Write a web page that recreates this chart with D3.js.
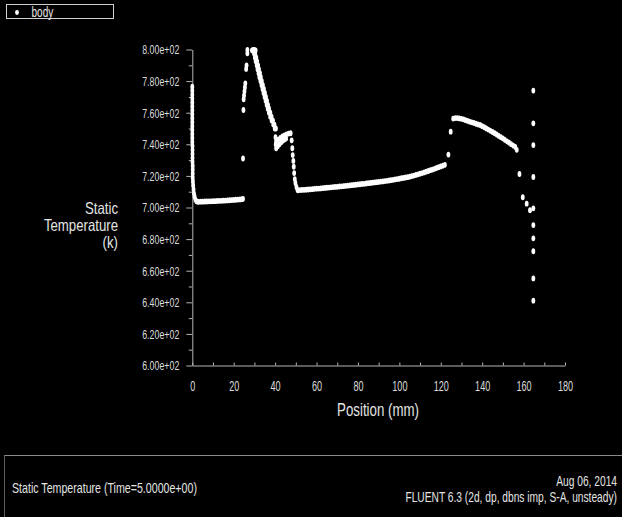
<!DOCTYPE html>
<html>
<head>
<meta charset="utf-8">
<script src="https://cdn.jsdelivr.net/npm/d3@7"></script>
<style>
  html, body { margin: 0; padding: 0; background: #000; }
  svg { display: block; }
  text { font-family: "Liberation Sans", Arial, sans-serif; fill: #e4e4e4; }
</style>
</head>
<body>
<svg id="chart" width="622" height="517"></svg>
<script>
// data: [position mm, static temperature K]
var inletColumn = [
  [0,776.5],[0,774],[0,771.5],[0,769],[0,766.5],[0,764],[0,761.5],[0,759],[0,756.5],[0,754],
  [0,751.5],[0,749],[0,746.5],[0,744],[0,741.5],[0.1,739],[0.1,736.5],[0.1,734],[0.1,731.5],
  [0.1,729],[0.2,726.5],[0.2,724],[0.2,721.5],[0.2,719],[0.3,716.5],[0.4,714],[0.6,711.5],
  [0.8,709],[1.1,707],[1.5,705],[2,704]
];
var inletFlat = [
  [2.5,703.7],[3,703.6],[4,703.7],[5,703.7],[6,703.8],[7,703.8],[8,703.9],[9,703.9],[10,704],
  [11,704],[12,704.1],[13,704.2],[14,704.2],[15,704.3],[16,704.4],[17,704.5],[18,704.6],
  [19,704.7],[20,704.8],[21,704.9],[22,705],[23,705.1],[24,705.3],[24.5,705.5]
];
var shockRise = [
  [24.5,731],[24.7,761.7],[24.8,768.5],[25,771],[25.2,773.5],[25.4,776],[25.6,778.6],
  [26,787.7],[26.2,790],[26.6,797.6],[26.6,799.7]
];
var peakTop = [[28.8,799.5],[29.4,799.7],[30,799.7],[30.6,799.5]];
var peakBandLeft = [
  [29.8,797.5],[30.2,795],[30.6,792.5],[31.1,790],[31.5,787.5],[32,785],[32.4,782.5],[32.9,780],
  [33.4,777.5],[33.9,775],[34.4,772.5],[34.9,770],[35.4,767.5],[35.9,765],[36.4,762.5],[37,760],
  [37.6,757.5],[38.3,755],[39.1,752.5],[39.8,750]
];
var peakBandRight = [
  [30.4,797.5],[30.9,795],[31.3,792.5],[31.8,790],[32.2,787.5],[32.7,785],[33.1,782.5],[33.6,780],
  [34.1,777.5],[34.6,775],[35.1,772.5],[35.6,770],[36.1,767.5],[36.6,765],[37.1,762.5],[37.7,760],
  [38.3,757.5],[39,755],[39.7,752.5],[40.4,750]
];
var knotUpper = [
  [40.2,744.5],[40.5,742],[41.5,743],[42.5,744],[43.5,745],[44.5,745.7],[45.5,746.3],[46.5,746.8],[47.5,747]
];
var knotLower = [
  [40.3,740],[40.5,737.5],[41.3,738.8],[42.1,740],[42.9,741.2],[43.7,742.2],[44.5,743],[45.3,743.6]
];
var dropColumn = [
  [48,742.5],[48.3,737.5],[48.5,733.2],[48.8,729.5],[49,725.8],[49.2,721.8],[49.5,718],[49.8,715.5],[50.3,713]
];
var midBand = [
  [50.8,711.2],[51,710.9],[52,711],[53,711.1],[54,711.2],[55,711.3],[56,711.4],[57,711.5],[58,711.6],
  [59,711.8],[60,711.9],[61,712],[62,712.1],[63,712.2],[64,712.4],[65,712.5],[66,712.6],[67,712.8],
  [68,712.9],[69,713],[70,713.1],[71,713.3],[72,713.4],[73,713.5],[74,713.7],[75,713.8],[76,714],
  [77,714.1],[78,714.3],[79,714.4],[80,714.6],[81,714.7],[82,714.9],[83,715],[84,715.2],[85,715.4],
  [86,715.5],[87,715.7],[88,715.9],[89,716],[90,716.2],[91,716.4],[92,716.5],[93,716.7],[94,716.9],
  [95,717.1],[96,717.3],[97,717.5],[98,717.8],[99,718],[100,718.2],[101,718.5],[102,718.7],[103,719],
  [104,719.2],[105,719.5],[106,719.9],[107,720.2],[108,720.6],[109,721],[110,721.4],[111,721.8],
  [112,722.2],[113,722.7],[114,723.1],[115,723.6],[116,724],[117,724.5],[118,725],[119,725.5],
  [120,726],[121,726.5],[122,727]
];
var riseDots = [[123.7,733.5],[124.8,748]];
var rearBand = [
  [126,756.3],[127,756.6],[128,756.6],[129,756.4],[130,756.1],[131,755.8],[132,755.3],[133,754.8],
  [134,754.3],[135,753.9],[136,753.5],[137,753],[138,752.6],[139,752.2],[140,751.5],[141,750.8],
  [142,750],[143,749.3],[144,748.5],[145,747.8],[146,747],[147,746.2],[148,745.3],[149,744.5],
  [150,743.7],[151,742.8],[152,741.9],[153,741],[154,740.1],[155,739.2],[156,738.3]
];
var tailDots = [[156.7,736.5],[158,721.2],[159.6,706.5],[161.5,702.4],[163.1,698.3]];
var exitColumn = [
  [164.7,774],[164.7,753.3],[164.7,739.5],[164.7,719.3],[164.7,699.5],[164.7,688.9],
  [164.7,680.5],[164.7,672.3],[164.7,655.1],[164.7,641]
];

var yMajor = d3.range(600, 801, 20);
var yMinor = d3.range(610, 800, 20);
var xMajor = d3.range(0, 181, 20);
var xMinor = d3.range(10, 180, 20);

var allPoints = [].concat(inletColumn, inletFlat, shockRise, peakTop, peakBandLeft, peakBandRight,
  knotUpper, knotLower, dropColumn, midBand, riseDots, rearBand, tailDots, exitColumn);

var squeeze = 0.68; // text in the picture is narrowed

var svg = d3.select('#chart');

svg.append('rect').attr('width', 622).attr('height', 517).attr('fill', '#000');

var x = d3.scaleLinear().domain([0, 180]).range([192.3, 565]);
var y = d3.scaleLinear().domain([600, 800]).range([365.5, 49.5]);

// y axis
var gy = svg.append('g').attr('transform', 'translate(' + x(0) + ',0)');
gy.call(d3.axisLeft(y).tickValues(yMajor).tickSize(6).tickSizeOuter(0)
  .tickFormat(function(d) { return d.toExponential(2).replace(/e\+(\d)$/, 'e+0$1'); }));
svg.append('g').attr('transform', 'translate(' + x(0) + ',0)')
  .call(d3.axisLeft(y).tickValues(yMinor).tickSize(3.5).tickSizeOuter(0).tickFormat(''))
  .select('.domain').remove();
gy.selectAll('text')
  .attr('x', 0).attr('dy', '0.34em')
  .attr('transform', 'translate(-13,0) scale(' + squeeze + ',1)')
  .style('font-size', '13px');

// x axis
var gx = svg.append('g').attr('transform', 'translate(0,' + y(600) + ')');
gx.call(d3.axisBottom(x).tickValues(xMajor).tickSize(-3).tickSizeOuter(0));
svg.append('g').attr('transform', 'translate(0,' + y(600) + ')')
  .call(d3.axisBottom(x).tickValues(xMinor).tickSize(-3).tickSizeOuter(0).tickFormat(''))
  .select('.domain').remove();
gx.selectAll('text')
  .attr('y', 0).attr('dy', 0)
  .attr('transform', 'translate(0,25) scale(0.65,1)')
  .style('font-size', '14px');

svg.selectAll('.domain, .tick line').attr('stroke', '#b4b4b4');
svg.selectAll('.tick text').style('fill', '#dcdcdc').style('font-family', '"Liberation Sans", Arial, sans-serif');

// axis titles
function label(txt, tx, ty, size, anchor, sx) {
  svg.append('text')
    .attr('transform', 'translate(' + tx + ',' + ty + ') scale(' + (sx || squeeze) + ',1)')
    .attr('text-anchor', anchor)
    .style('font-size', size + 'px')
    .text(txt);
}
label('Position (mm)', 378, 416, 19, 'middle', 0.7);
label('Static', 118, 214, 16.5, 'end', 0.8);
label('Temperature', 118, 231, 16.5, 'end', 0.8);
label('(k)', 118, 248, 16.5, 'end', 0.8);

// data points
svg.append('g').selectAll('ellipse')
  .data(allPoints)
  .enter().append('ellipse')
  .attr('cx', function(d) { return x(d[0]); })
  .attr('cy', function(d) { return y(d[1]); })
  .attr('rx', 1.9)
  .attr('ry', 2.9)
  .attr('fill', '#fff');

// legend
svg.append('rect').attr('x', 6.5).attr('y', 4.5).attr('width', 107).attr('height', 14)
  .attr('fill', 'none').attr('stroke', '#d0d0d0').attr('stroke-width', 1);
svg.append('ellipse').attr('cx', 17).attr('cy', 12.5).attr('rx', 1.9).attr('ry', 2.4).attr('fill', '#fff');
label('body', 31.5, 17, 15, 'start', 0.67);

// footer panel
svg.append('line').attr('x1', 4).attr('x2', 622).attr('y1', 455.5).attr('y2', 455.5)
  .attr('stroke', '#8a8a8a');
svg.append('line').attr('x1', 4.5).attr('x2', 4.5).attr('y1', 455.5).attr('y2', 517)
  .attr('stroke', '#5a5a5a');
label('Static Temperature  (Time=5.0000e+00)', 12, 493, 14, 'start', 0.76);
label('Aug 06, 2014', 617, 486, 14, 'end', 0.73);
label('FLUENT 6.3 (2d, dp, dbns imp, S-A, unsteady)', 617, 502, 14, 'end', 0.73);
</script>
</body>
</html>
